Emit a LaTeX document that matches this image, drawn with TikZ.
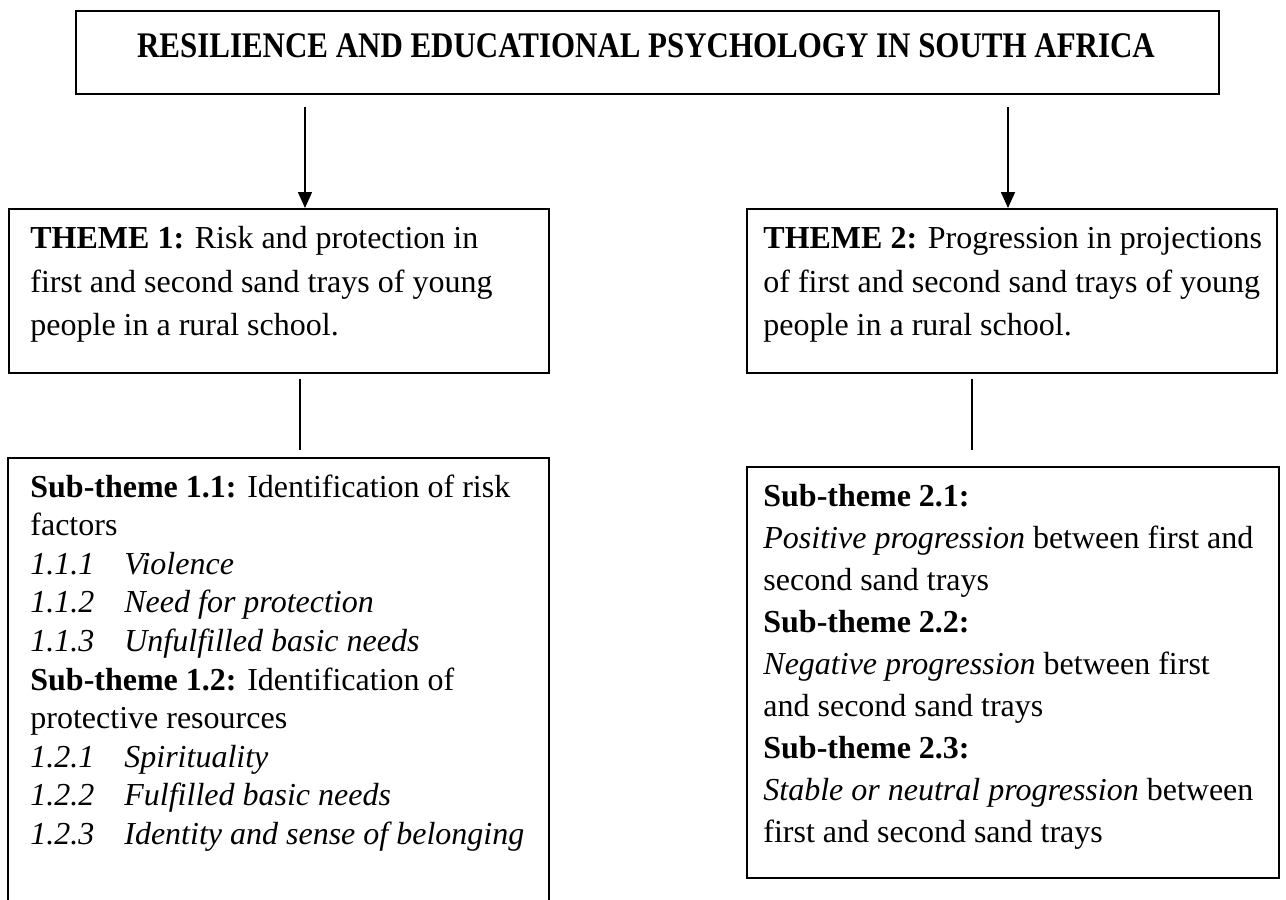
\documentclass[tikz,border=0pt]{standalone}
\usepackage{fontspec}
\setmainfont{Liberation Serif}
\usetikzlibrary{arrows.meta}
\begin{document}
\begin{tikzpicture}[x=0.5pt,y=-0.5pt,
  box/.style={draw, line width=1pt, rectangle, inner sep=0pt, anchor=north west},
  ln/.style={anchor=base west, inner sep=0pt, font=\fontsize{16}{19}\selectfont},
  ttl/.style={anchor=base, inner sep=0pt, font=\fontsize{18}{20}\selectfont\bfseries, xscale=0.86},
  arr/.style={line width=0.8pt, -{Triangle[length=8pt,width=7pt]}},
  link/.style={line width=0.8pt}]
\clip (0,0) rectangle (1286,900);
\useasboundingbox (0,0) rectangle (1286,900);

% boxes
\node[box, minimum width=571.5pt, minimum height=41.5pt] (top) at (75,10) {};
\node[box, minimum width=270pt, minimum height=82pt] (th1) at (8,208) {};
\node[box, minimum width=265pt, minimum height=82pt] (th2) at (746,208) {};
\node[anchor=north west, inner sep=0pt, minimum width=270pt, minimum height=230pt] (sub1) at (8,458) {};
\draw[line width=1pt] (sub1.south west) -- (sub1.north west) -- (sub1.north east) -- (sub1.south east);
\node[box, minimum width=266pt, minimum height=205.5pt] (sub2) at (746,466) {};

% title
\node[ttl] (title) at (646,57) {RESILIENCE AND EDUCATIONAL PSYCHOLOGY IN SOUTH AFRICA};

% theme texts
\node[ln] (t1a) at (30,248) {\textbf{THEME 1:} Risk and protection in};
\node[ln] (t1b) at (30,292) {first and second sand trays of young};
\node[ln] (t1c) at (30,335) {people in a rural school.};
\node[ln] (t2a) at (763,248) {\textbf{THEME 2:} Progression in projections};
\node[ln] (t2b) at (763,292) {of first and second sand trays of young};
\node[ln] (t2c) at (763,335) {people in a rural school.};

% sub-theme texts, left
\newcommand{\numitem}[2]{\textit{\makebox[47pt][l]{#1}#2}}
\foreach \k/\txt in {
  0/{\textbf{Sub-theme 1.1:} Identification of risk},
  1/{factors},
  2/{\numitem{1.1.1}{Violence}},
  3/{\numitem{1.1.2}{Need for protection}},
  4/{\numitem{1.1.3}{Unfulfilled basic needs}},
  5/{\textbf{Sub-theme 1.2:} Identification of},
  6/{protective resources},
  7/{\numitem{1.2.1}{Spirituality}},
  8/{\numitem{1.2.2}{Fulfilled basic needs}},
  9/{\numitem{1.2.3}{Identity and sense of belonging}}}
  \node[ln] (s1l\k) at (30,497+38.6*\k) {\txt};

% sub-theme texts, right
\foreach \k/\txt in {
  0/{\textbf{Sub-theme 2.1:}},
  1/{\textit{Positive progression} between first and},
  2/{second sand trays},
  3/{\textbf{Sub-theme 2.2:}},
  4/{\textit{Negative progression} between first},
  5/{and second sand trays},
  6/{\textbf{Sub-theme 2.3:}},
  7/{\textit{Stable or neutral progression} between},
  8/{first and second sand trays}}
  \node[ln] (s2l\k) at (763,506+42*\k) {\txt};

% connectors
\coordinate (c1) at (305,0);
\coordinate (c2) at (1008,0);
\coordinate (c3) at (300,0);
\coordinate (c4) at (972,0);
\draw[arr, shorten <=6pt] (c1 |- top.south) -- (c1 |- th1.north);
\draw[arr, shorten <=6pt] (c2 |- top.south) -- (c2 |- th2.north);
\draw[link, shorten <=2.5pt, shorten >=4pt] (c3 |- th1.south) -- (c3 |- sub1.north);
\draw[link, shorten <=2.5pt, shorten >=8pt] (c4 |- th2.south) -- (c4 |- sub2.north);
\end{tikzpicture}
\end{document}
